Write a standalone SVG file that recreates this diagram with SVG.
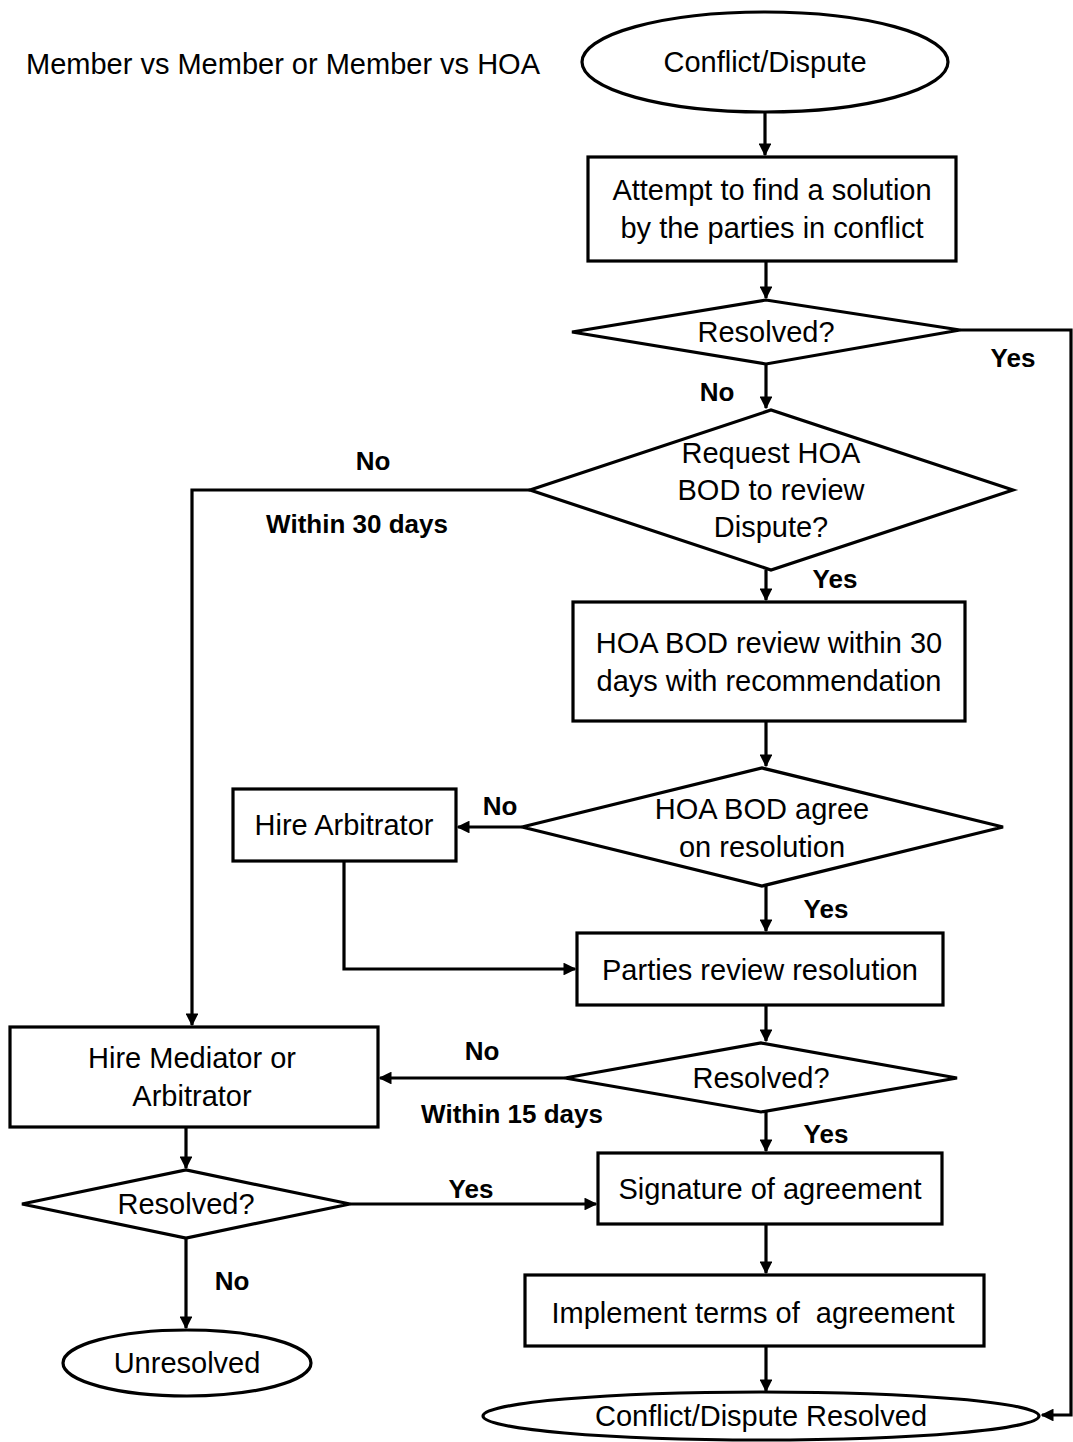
<svg xmlns="http://www.w3.org/2000/svg" width="1073" height="1442" viewBox="0 0 1073 1442">
<style>
.s{fill:#fff;stroke:#000;stroke-width:3.2}
.c{fill:none;stroke:#000;stroke-width:3.2}
.t{font-family:"Liberation Sans",Arial,sans-serif;font-size:29px;fill:#000;text-anchor:middle}
.b{font-family:"Liberation Sans",Arial,sans-serif;font-size:26px;font-weight:bold;fill:#000;text-anchor:middle}
</style>
<defs>
<marker id="a" viewBox="0 0 10 10" refX="9" refY="5" markerWidth="4" markerHeight="4" orient="auto" markerUnits="strokeWidth">
<path d="M0,0 L10,5 L0,10 z" fill="#000"/>
</marker>
</defs>
<rect width="1073" height="1442" fill="#fff"/>
<text class="t" x="283" y="74">Member vs Member or Member vs HOA</text>
<g id="connectors">
<path class="c" d="M765,112 V155" marker-end="url(#a)"/>
<path class="c" d="M766,261 V298" marker-end="url(#a)"/>
<path class="c" d="M960,330 H1071 V1415 H1042" marker-end="url(#a)"/>
<path class="c" d="M766,364 V408" marker-end="url(#a)"/>
<path class="c" d="M530,490 H192 V1025" marker-end="url(#a)"/>
<path class="c" d="M766,570 V600" marker-end="url(#a)"/>
<path class="c" d="M766,721 V766" marker-end="url(#a)"/>
<path class="c" d="M522,827 H458" marker-end="url(#a)"/>
<path class="c" d="M344,861 V969 H575" marker-end="url(#a)"/>
<path class="c" d="M766,886 V931" marker-end="url(#a)"/>
<path class="c" d="M766,1005 V1041" marker-end="url(#a)"/>
<path class="c" d="M565,1078 H380" marker-end="url(#a)"/>
<path class="c" d="M186,1127 V1168" marker-end="url(#a)"/>
<path class="c" d="M350,1204 H596" marker-end="url(#a)"/>
<path class="c" d="M766,1112 V1151" marker-end="url(#a)"/>
<path class="c" d="M766,1224 V1273" marker-end="url(#a)"/>
<path class="c" d="M766,1346 V1391" marker-end="url(#a)"/>
<path class="c" d="M186,1238 V1328" marker-end="url(#a)"/>
</g>
<g id="labels">
<text class="b" x="1013" y="367">Yes</text>
<text class="b" x="717" y="401">No</text>
<text class="b" x="373" y="470">No</text>
<text class="b" x="357" y="533">Within 30 days</text>
<text class="b" x="835" y="588">Yes</text>
<text class="b" x="500" y="815">No</text>
<text class="b" x="826" y="918">Yes</text>
<text class="b" x="482" y="1060">No</text>
<text class="b" x="512" y="1123">Within 15 days</text>
<text class="b" x="826" y="1143">Yes</text>
<text class="b" x="471" y="1198">Yes</text>
<text class="b" x="232" y="1290">No</text>
</g>
<g id="start"><ellipse class="s" cx="765" cy="62" rx="183" ry="50"/><text class="t" x="765" y="72">Conflict/Dispute</text></g>
<g id="attempt"><rect class="s" x="588" y="157" width="368" height="104"/><text class="t" x="772" y="200">Attempt to find a solution</text><text class="t" x="772" y="238">by the parties in conflict</text></g>
<g id="resolved1"><polygon class="s" points="572,332 766,300 960,330 766,364"/><text class="t" x="766" y="342">Resolved?</text></g>
<g id="request"><polygon class="s" points="530,490 771,410 1013,490 771,570"/><text class="t" x="771" y="463">Request HOA</text><text class="t" x="771" y="500">BOD to review</text><text class="t" x="771" y="537">Dispute?</text></g>
<g id="review"><rect class="s" x="573" y="602" width="392" height="119"/><text class="t" x="769" y="653">HOA BOD review within 30</text><text class="t" x="769" y="691">days with recommendation</text></g>
<g id="agree"><polygon class="s" points="522,827 762,768 1003,827 762,886"/><text class="t" x="762" y="819">HOA BOD agree</text><text class="t" x="762" y="857">on resolution</text></g>
<g id="arbitrator"><rect class="s" x="233" y="789" width="223" height="72"/><text class="t" x="344" y="835">Hire Arbitrator</text></g>
<g id="parties"><rect class="s" x="577" y="933" width="366" height="72"/><text class="t" x="760" y="980">Parties review resolution</text></g>
<g id="resolved2"><polygon class="s" points="565,1078 761,1043 957,1078 761,1112"/><text class="t" x="761" y="1088">Resolved?</text></g>
<g id="mediator"><rect class="s" x="10" y="1027" width="368" height="100"/><text class="t" x="192" y="1068">Hire Mediator or</text><text class="t" x="192" y="1106">Arbitrator</text></g>
<g id="resolved3"><polygon class="s" points="22,1204 186,1170 350,1204 186,1238"/><text class="t" x="186" y="1214">Resolved?</text></g>
<g id="signature"><rect class="s" x="598" y="1153" width="344" height="71"/><text class="t" x="770" y="1199">Signature of agreement</text></g>
<g id="implement"><rect class="s" x="525" y="1275" width="459" height="71"/><text class="t" x="753" y="1323" xml:space="preserve">Implement terms of  agreement</text></g>
<g id="resolvedEnd"><ellipse class="s" cx="761" cy="1416" rx="278" ry="24"/><text class="t" x="761" y="1426">Conflict/Dispute Resolved</text></g>
<g id="unresolved"><ellipse class="s" cx="187" cy="1363" rx="124" ry="33"/><text class="t" x="187" y="1373">Unresolved</text></g>
</svg>
